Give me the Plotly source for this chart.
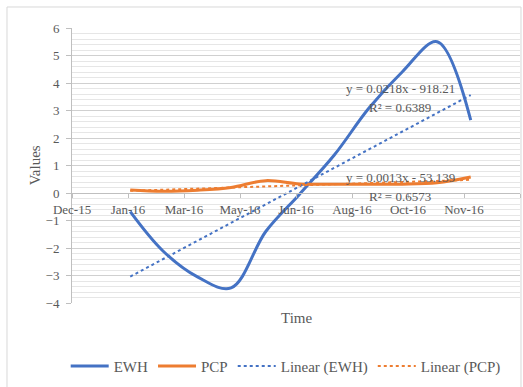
import plotly.graph_objects as go

# Monthly series (month-end dates, 2016)
dates = ["2016-01-31", "2016-02-29", "2016-03-31", "2016-04-30", "2016-05-31",
         "2016-06-30", "2016-07-31", "2016-08-31", "2016-09-30", "2016-10-31",
         "2016-11-30"]
ewh = [-0.68, -2.1, -3.05, -3.45, -1.4, -0.05, 1.37, 3.08, 4.41, 5.5, 2.65]
pcp = [0.11, 0.06, 0.1, 0.2, 0.45, 0.33, 0.32, 0.32, 0.32, 0.37, 0.58]

# Linear trend lines (first and last date)
trend_dates = ["2016-01-31", "2016-11-30"]
ewh_trend = [-3.04, 3.56]
pcp_trend = [0.08, 0.48]

# Date axis ticks (50-day major unit)
tick_dates = ["2015-12-10", "2016-01-29", "2016-03-19", "2016-05-08", "2016-06-27",
              "2016-08-16", "2016-10-05", "2016-11-24", "2017-01-13"]
tick_labels = ["Dec-15", "Jan-16", "Mar-16", "May-16", "Jun-16",
               "Aug-16", "Oct-16", "Nov-16", "Jan-17"]

blue = "#4472C4"
orange = "#ED7D31"
text_col = "#595959"
font_family = "Liberation Serif, Times New Roman, serif"

fig = go.Figure()
fig.add_trace(go.Scatter(x=dates, y=ewh, name="EWH", mode="lines",
                         line=dict(color=blue, width=3, shape="spline", smoothing=1)))
fig.add_trace(go.Scatter(x=dates, y=pcp, name="PCP", mode="lines",
                         line=dict(color=orange, width=3, shape="spline", smoothing=1)))
fig.add_trace(go.Scatter(x=trend_dates, y=ewh_trend, name="Linear (EWH)", mode="lines",
                         line=dict(color=blue, width=2, dash="dot")))
fig.add_trace(go.Scatter(x=trend_dates, y=pcp_trend, name="Linear (PCP)", mode="lines",
                         line=dict(color=orange, width=2, dash="dot")))

annotations = [
    dict(x="2016-09-28", y=3.8, text="y = 0.0218x - 918.21"),
    dict(x="2016-09-28", y=3.11, text="R² = 0.6389"),
    dict(x="2016-09-28", y=0.55, text="y = 0.0013x - 53.139"),
    dict(x="2016-09-28", y=-0.13, text="R² = 0.6573"),
]
for a in annotations:
    a.update(xref="x", yref="y", showarrow=False,
             font=dict(family=font_family, size=13, color=text_col))

annotations += [
    dict(text="Values", xref="paper", yref="paper", x=-0.083, y=0.5, textangle=-90,
         showarrow=False, xanchor="center", yanchor="middle",
         font=dict(family=font_family, size=15, color=text_col)),
    dict(text="Time", xref="paper", yref="paper", x=0.5, y=-0.055,
         showarrow=False, xanchor="center", yanchor="middle",
         font=dict(family=font_family, size=15, color=text_col)),
]

fig.update_layout(
    width=523, height=387,
    margin=dict(l=72, r=3, t=28, b=84),
    paper_bgcolor="white", plot_bgcolor="white",
    font=dict(family=font_family, size=12, color=text_col),
    showlegend=True,
    legend=dict(orientation="h", x=0.477, xanchor="center", y=-0.17, yanchor="top",
                font=dict(family=font_family, size=15, color=text_col),
                itemwidth=38, tracegroupgap=0),
    annotations=annotations,
    shapes=[dict(type="rect", xref="paper", yref="paper",
                 x0=-0.1451, x1=1.0022, y0=-0.33, y1=1.0764,
                 line=dict(color="#d9d9d9", width=1), layer="below")],
    xaxis=dict(
        type="date", range=["2015-12-10", "2017-01-13"],
        tickmode="array", tickvals=tick_dates, ticktext=tick_labels,
        anchor="free", position=0.4,
        showgrid=False, zeroline=False,
        showline=True, linecolor="#bfbfbf", linewidth=1,
        ticks="outside", ticklen=4, tickcolor="#bfbfbf",
        tickfont=dict(family=font_family, size=13, color=text_col),
    ),
    yaxis=dict(
        range=[-4, 6], dtick=1, tick0=0,
        showgrid=True, gridcolor="#d0d0d0", gridwidth=1,
        minor=dict(dtick=0.2, showgrid=True, gridcolor="#e6e6e6", gridwidth=1),
        zeroline=False,
        showline=True, linecolor="#bfbfbf", linewidth=1,
        ticks="outside", ticklen=5, tickcolor="#bfbfbf",
        ticklabelstandoff=4,
        tickfont=dict(family=font_family, size=13, color=text_col),
    ),
)

fig.write_html("out.html")
